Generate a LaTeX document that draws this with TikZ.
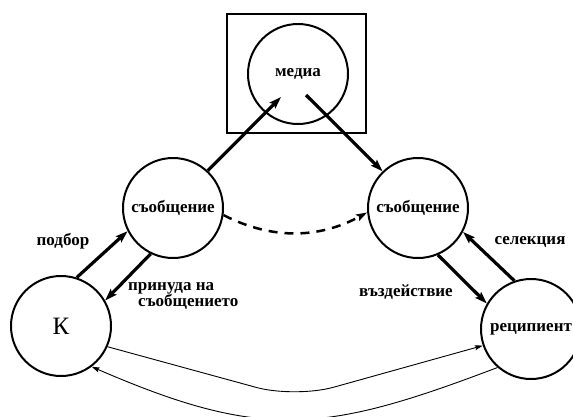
\documentclass[tikz,border=0pt]{standalone}
\usepackage{fontspec}
\setmainfont{Liberation Serif}
\usetikzlibrary{arrows.meta}
\begin{document}
\begin{tikzpicture}[x=1pt,y=-1pt,
  circ/.style={circle, draw, line width=2pt, minimum size=100pt, inner sep=0pt},
  lbl/.style={font=\fontsize{17}{14}\selectfont\bfseries, inner sep=0pt},
  heavy/.style={line width=3.2pt, -{Stealth[length=12pt,width=8pt,inset=2pt]}},
  light/.style={line width=0.9pt, -{Stealth[length=8pt,width=5pt,inset=1.5pt]}},
]
\useasboundingbox (0,0) rectangle (573,416);

% frame around the media node
\node[draw, line width=2.5pt, minimum width=139pt, minimum height=119pt, inner sep=0pt]
  (frame) at (296.5,73.5) {};

% nodes
\node[circ, lbl] (media) at (298,74) {медиа};
\node[circ, lbl] (msgL) at (173,208) {съобщение};
\node[circ, lbl] (msgR) at (418,208) {съобщение};
\node[circ, font=\fontsize{25}{25}\selectfont] (K) at (61,326) {К};
\node[circ, lbl] (rec) at (531,329) {реципиент};

% arrow ends inside the media circle
\coordinate (mIn) at (281,97);
\coordinate (mOut) at (306,95);

% heavy connectors
\draw[heavy] (msgL.47) -- (mIn);
\draw[heavy] (mOut) -- (msgR.134);
\draw[heavy] (K.72) -- (msgL.207);
\draw[heavy] (msgL.244) -- (K.30);
\draw[heavy] (msgR.293) -- (rec.150);
\draw[heavy] (rec.109) -- (msgR.332);

% dashed link between the two messages
\draw[line width=2.5pt, dash pattern=on 9pt off 7pt, -{Stealth[length=11pt,width=7pt,inset=2pt]}]
  (msgL.-8) .. controls (271.7,239.7) and (318.3,239) .. (msgR.185);

% feedback loops
\draw[light, rounded corners=40pt] (K.336) -- (295,398) -- (rec.199);
\draw[light] (rec.229) .. controls (325,433) and (263,441) .. (K.307);

% labels
\node[lbl] (l1) at (63,241) {подбор};
\node[lbl, align=left, anchor=west] (l2) at (128,296) {принуда на\\\hspace*{10pt}съобщението};
\node[lbl] (l3) at (406,292) {въздействие};
\node[lbl] (l4) at (530,242) {селекция};
\end{tikzpicture}
\end{document}
